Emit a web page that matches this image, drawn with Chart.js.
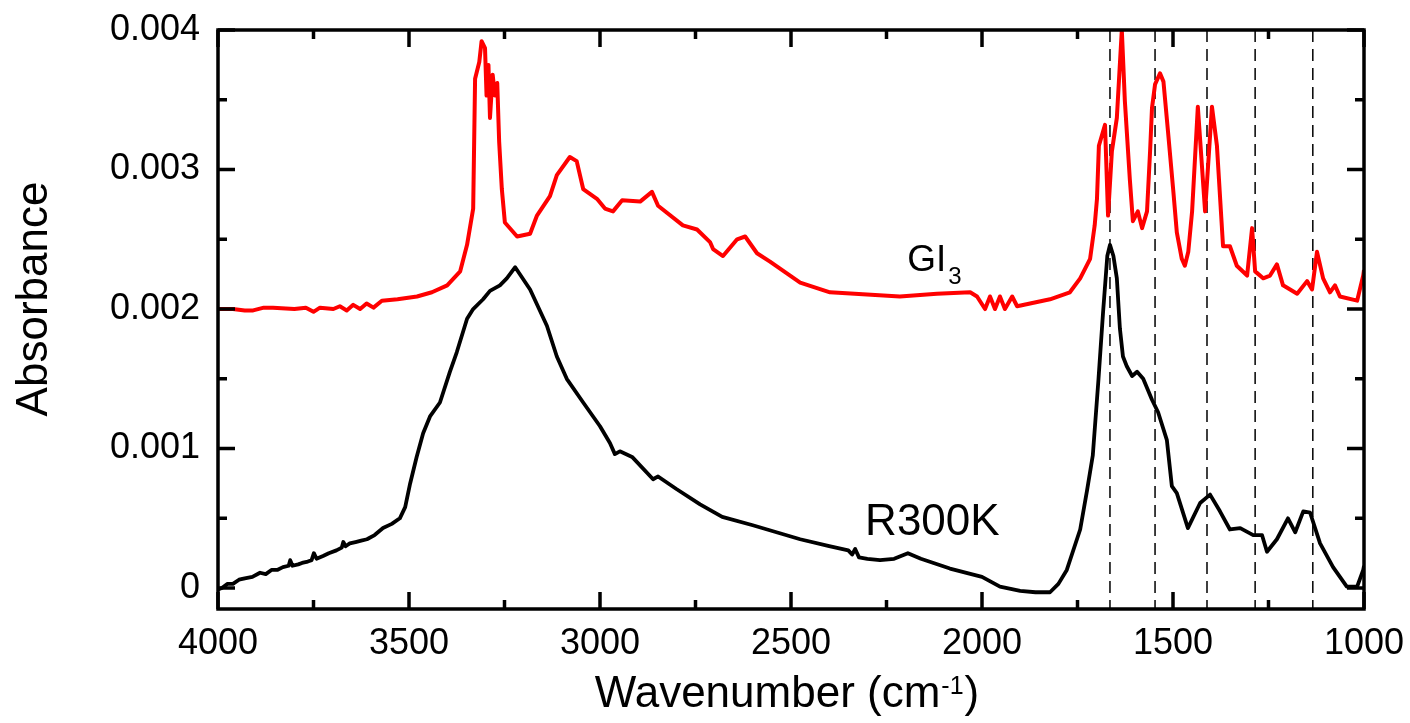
<!DOCTYPE html>
<html>
<head>
<meta charset="utf-8">
<script src="https://cdn.jsdelivr.net/npm/chart.js@4.4.1/dist/chart.umd.min.js"></script>
<style>
html,body{margin:0;padding:0;background:#fff;}
canvas{display:block;}
</style>
</head>
<body>
<canvas id="c" width="1410" height="723"></canvas>
<script>
// ---- Data (wavenumber cm^-1, absorbance) ----
const r300k = [
  [4000,-0.00001],[3990,0.00000],[3975,0.00003],[3961,0.00003],[3945,0.00006],[3930,0.00007],
  [3910,0.00008],[3890,0.00011],[3875,0.00010],[3860,0.00013],[3845,0.00013],[3830,0.00015],
  [3815,0.00016],[3811,0.00020],[3805,0.00016],[3790,0.00017],[3780,0.00018],[3765,0.00019],
  [3755,0.00020],[3749,0.00025],[3742,0.00021],[3725,0.00023],[3710,0.00025],[3690,0.00027],
  [3676,0.00029],[3672,0.00033],[3666,0.00030],[3655,0.00032],[3640,0.00033],[3625,0.00034],
  [3610,0.00035],[3590,0.00038],[3568,0.00043],[3545,0.00046],[3524,0.00050],[3510,0.00058],
  [3497,0.00075],[3480,0.00094],[3463,0.00111],[3445,0.00123],[3419,0.00133],[3393,0.00155],
  [3375,0.00169],[3348,0.00193],[3332,0.00200],[3306,0.00207],[3288,0.00213],[3262,0.00217],
  [3244,0.00222],[3222,0.00230],[3183,0.00214],[3139,0.00188],[3113,0.00166],[3087,0.00150],
  [3044,0.00133],[3000,0.00116],[2974,0.00104],[2961,0.00096],[2948,0.00098],[2916,0.00094],
  [2861,0.00078],[2848,0.00080],[2800,0.00071],[2738,0.00060],[2680,0.00051],[2600,0.00045],
  [2476,0.00035],[2400,0.00030],[2350,0.00027],[2340,0.00024],[2332,0.00028],[2322,0.00022],
  [2300,0.00021],[2267,0.00020],[2230,0.00021],[2194,0.00025],[2160,0.00021],[2084,0.00014],
  [2000,0.00008],[1953,0.00001],[1900,-0.00002],[1860,-0.00003],[1822,-0.00003],[1800,0.00003],
  [1778,0.00013],[1743,0.00042],[1725,0.00070],[1710,0.00095],[1695,0.00150],[1683,0.00198],
  [1672,0.00238],[1665,0.00246],[1656,0.00238],[1647,0.00222],[1639,0.00186],[1631,0.00166],
  [1621,0.00159],[1607,0.00152],[1594,0.00155],[1578,0.00150],[1555,0.00135],[1539,0.00126],
  [1516,0.00106],[1503,0.00073],[1490,0.00068],[1461,0.00043],[1429,0.00061],[1403,0.00067],
  [1377,0.00055],[1351,0.00042],[1324,0.00043],[1290,0.00038],[1267,0.00038],[1254,0.00026],
  [1228,0.00035],[1199,0.00050],[1180,0.00040],[1159,0.00055],[1141,0.00054],[1115,0.00032],
  [1081,0.00015],[1045,0.00001],[1018,0.00001],[1002,0.00013],[1000,0.00016]
];
const gi3 = [
  [4000,0.00200],[3961,0.00200],[3930,0.00199],[3908,0.00199],[3880,0.00201],[3856,0.00201],
  [3800,0.00200],[3770,0.00201],[3750,0.00198],[3733,0.00201],[3698,0.00200],[3681,0.00202],
  [3663,0.00199],[3646,0.00203],[3628,0.00200],[3611,0.00204],[3593,0.00201],[3571,0.00206],
  [3530,0.00207],[3479,0.00209],[3440,0.00212],[3400,0.00217],[3366,0.00227],[3348,0.00246],
  [3332,0.00272],[3327,0.00365],[3316,0.00377],[3310,0.00392],[3301,0.00387],[3297,0.00353],
  [3292,0.00375],[3288,0.00337],[3281,0.00368],[3275,0.00353],[3269,0.00362],[3264,0.00320],
  [3257,0.00286],[3249,0.00262],[3217,0.00252],[3183,0.00254],[3165,0.00267],[3131,0.00281],
  [3113,0.00296],[3079,0.00309],[3061,0.00306],[3044,0.00286],[3008,0.00279],[2987,0.00272],
  [2966,0.00270],[2942,0.00278],[2895,0.00277],[2864,0.00284],[2848,0.00274],[2783,0.00260],
  [2746,0.00257],[2712,0.00248],[2704,0.00243],[2678,0.00238],[2641,0.00250],[2620,0.00252],
  [2589,0.00240],[2555,0.00234],[2476,0.00219],[2398,0.00212],[2215,0.00209],[2118,0.00211],
  [2031,0.00212],[2013,0.00209],[1992,0.00200],[1979,0.00209],[1966,0.00200],[1953,0.00209],
  [1940,0.00200],[1921,0.00209],[1908,0.00202],[1822,0.00207],[1770,0.00212],[1743,0.00222],
  [1717,0.00236],[1705,0.00260],[1699,0.00279],[1694,0.00317],[1678,0.00332],[1670,0.00267],
  [1660,0.00313],[1647,0.00337],[1634,0.00400],[1626,0.00349],[1613,0.00293],[1605,0.00263],
  [1592,0.00270],[1581,0.00258],[1568,0.00270],[1560,0.00313],[1555,0.00344],[1547,0.00361],
  [1534,0.00369],[1525,0.00363],[1513,0.00327],[1499,0.00284],[1490,0.00255],[1477,0.00236],
  [1469,0.00231],[1460,0.00241],[1450,0.00270],[1435,0.00345],[1416,0.00270],[1398,0.00345],
  [1385,0.00317],[1369,0.00245],[1351,0.00245],[1333,0.00231],[1306,0.00224],[1293,0.00258],
  [1285,0.00227],[1264,0.00222],[1246,0.00224],[1228,0.00232],[1212,0.00217],[1175,0.00211],
  [1149,0.00220],[1136,0.00214],[1123,0.00241],[1107,0.00222],[1089,0.00212],[1076,0.00217],
  [1063,0.00209],[1018,0.00206],[1002,0.00224],[1000,0.00228]
];
const markerWavenumbers = [1665, 1547, 1411, 1285, 1134];
const xTickValues = [4000, 3500, 3000, 2500, 2000, 1500, 1000];
const xTickLabels = ['4000', '3500', '3000', '2500', '2000', '1500', '1000'];
const xMinorTicks = [3750, 3250, 2750, 2250, 1750, 1250];
const yTickValues = [0, 0.001, 0.002, 0.003, 0.004];
const yTickLabels = ['0', '0.001', '0.002', '0.003', '0.004'];
const yMinorTicks = [0.0005, 0.0015, 0.0025, 0.0035];
const X_RANGE = [1000, 4000];
const Y_RANGE = [-0.00015, 0.004];
const seriesLabels = { gi3: ['GI', '3'], r300k: 'R300K' };
const labelAnchors = { gi3: [2196, 0.002273], r300k: [2306, 0.000381] };

// ---- Styling ----
const FONT = "'Liberation Sans', Arial, Helvetica, sans-serif";

const toXY = arr => arr.map(p => ({ x: p[0], y: p[1] }));

const datasets = [
  { label: 'GI3', data: toXY(gi3), borderColor: '#ff0000', borderWidth: 4, pointRadius: 0, tension: 0, fill: false, borderJoinStyle: 'round' },
  { label: 'R300K', data: toXY(r300k), borderColor: '#000000', borderWidth: 3.8, pointRadius: 0, tension: 0, fill: false, borderJoinStyle: 'round' }
];
markerWavenumbers.forEach(w => {
  datasets.push({
    label: 'marker ' + w,
    data: [{ x: w, y: Y_RANGE[1] }, { x: w, y: Y_RANGE[0] }],
    borderColor: '#000', borderWidth: 1.5, borderDash: [12, 7],
    pointRadius: 0, fill: false, tension: 0
  });
});

const zeroPad = s => { s.paddingTop = 0; s.paddingBottom = 0; s.paddingLeft = 0; s.paddingRight = 0; };

const framePlugin = {
  id: 'frame',
  afterDatasetsDraw(chart) {
    const { ctx, chartArea: a } = chart;
    const xs = chart.scales.x, ys = chart.scales.y;
    ctx.save();
    ctx.strokeStyle = '#000';
    ctx.lineCap = 'butt';
    ctx.lineWidth = 3.5;
    ctx.beginPath();
    const seg = (x1, y1, x2, y2) => { ctx.moveTo(x1, y1); ctx.lineTo(x2, y2); };
    xTickValues.forEach(v => { const p = xs.getPixelForValue(v); seg(p, a.bottom, p, a.bottom - 17); seg(p, a.top, p, a.top + 17); });
    xMinorTicks.forEach(v => { const p = xs.getPixelForValue(v); seg(p, a.bottom, p, a.bottom - 9); seg(p, a.top, p, a.top + 9); });
    yTickValues.forEach(v => { const p = ys.getPixelForValue(v); seg(a.left, p, a.left + 17, p); seg(a.right, p, a.right - 17, p); });
    yMinorTicks.forEach(v => { const p = ys.getPixelForValue(v); seg(a.left, p, a.left + 9, p); seg(a.right, p, a.right - 9, p); });
    ctx.stroke();
    ctx.lineWidth = 3.5;
    ctx.strokeRect(a.left, a.top, a.right - a.left, a.bottom - a.top);
    ctx.restore();
  },
  afterDraw(chart) {
    const { ctx } = chart;
    const xs = chart.scales.x, ys = chart.scales.y;
    ctx.save();
    ctx.fillStyle = '#000';
    ctx.textBaseline = 'alphabetic';
    // series labels
    const gx = xs.getPixelForValue(labelAnchors.gi3[0]);
    const gy = ys.getPixelForValue(labelAnchors.gi3[1]);
    ctx.textAlign = 'left';
    ctx.font = '37px ' + FONT;
    ctx.fillText(seriesLabels.gi3[0], gx, gy);
    const gw = ctx.measureText(seriesLabels.gi3[0]).width;
    ctx.font = '24px ' + FONT;
    ctx.fillText(seriesLabels.gi3[1], gx + gw + 2, gy + 13);
    ctx.font = '44px ' + FONT;
    ctx.fillText(seriesLabels.r300k, xs.getPixelForValue(labelAnchors.r300k[0]), ys.getPixelForValue(labelAnchors.r300k[1]));
    // y axis title
    ctx.save();
    ctx.translate(47, 299);
    ctx.rotate(-Math.PI / 2);
    ctx.textAlign = 'center';
    ctx.font = '44px ' + FONT;
    ctx.fillText('Absorbance', 0, 0);
    ctx.restore();
    // x axis title
    const main = 'Wavenumber (cm', sup = '-1', close = ')';
    ctx.font = '44px ' + FONT;
    const w1 = ctx.measureText(main).width, w3 = ctx.measureText(close).width;
    ctx.font = '25px ' + FONT;
    const w2 = ctx.measureText(sup).width;
    const sx = 787 - (w1 + w2 + w3 + 2) / 2;
    ctx.textAlign = 'left';
    ctx.font = '44px ' + FONT;
    ctx.fillText(main, sx, 707);
    ctx.font = '25px ' + FONT;
    ctx.fillText(sup, sx + w1 + 1, 694);
    ctx.font = '44px ' + FONT;
    ctx.fillText(close, sx + w1 + w2 + 2, 707);
    ctx.restore();
  }
};

new Chart(document.getElementById('c'), {
  type: 'line',
  data: { datasets },
  options: {
    responsive: false,
    animation: false,
    events: [],
    layout: { padding: { left: 0, right: 46, top: 30, bottom: 0 } },
    plugins: { legend: { display: false }, tooltip: { enabled: false } },
    scales: {
      x: {
        type: 'linear', reverse: true, min: X_RANGE[0], max: X_RANGE[1],
        grid: { display: false, drawTicks: false },
        border: { display: false },
        afterBuildTicks: s => { s.ticks = xTickValues.map(v => ({ value: v })); },
        afterFit: s => { s.height = 114; zeroPad(s); },
        ticks: {
          autoSkip: false, maxRotation: 0, padding: 13, color: '#000',
          font: { size: 36, family: FONT },
          callback: v => { const i = xTickValues.indexOf(v); return i >= 0 ? xTickLabels[i] : ''; }
        }
      },
      y: {
        type: 'linear', min: Y_RANGE[0], max: Y_RANGE[1],
        grid: { display: false, drawTicks: false },
        border: { display: false },
        afterBuildTicks: s => { s.ticks = yTickValues.map(v => ({ value: v })); },
        afterFit: s => { s.width = 218; zeroPad(s); },
        ticks: {
          autoSkip: false, padding: 18, color: '#000',
          font: { size: 36, family: FONT },
          callback: v => { const i = yTickValues.indexOf(v); return i >= 0 ? yTickLabels[i] : ''; }
        }
      }
    }
  },
  plugins: [framePlugin]
});
</script>
</body>
</html>
